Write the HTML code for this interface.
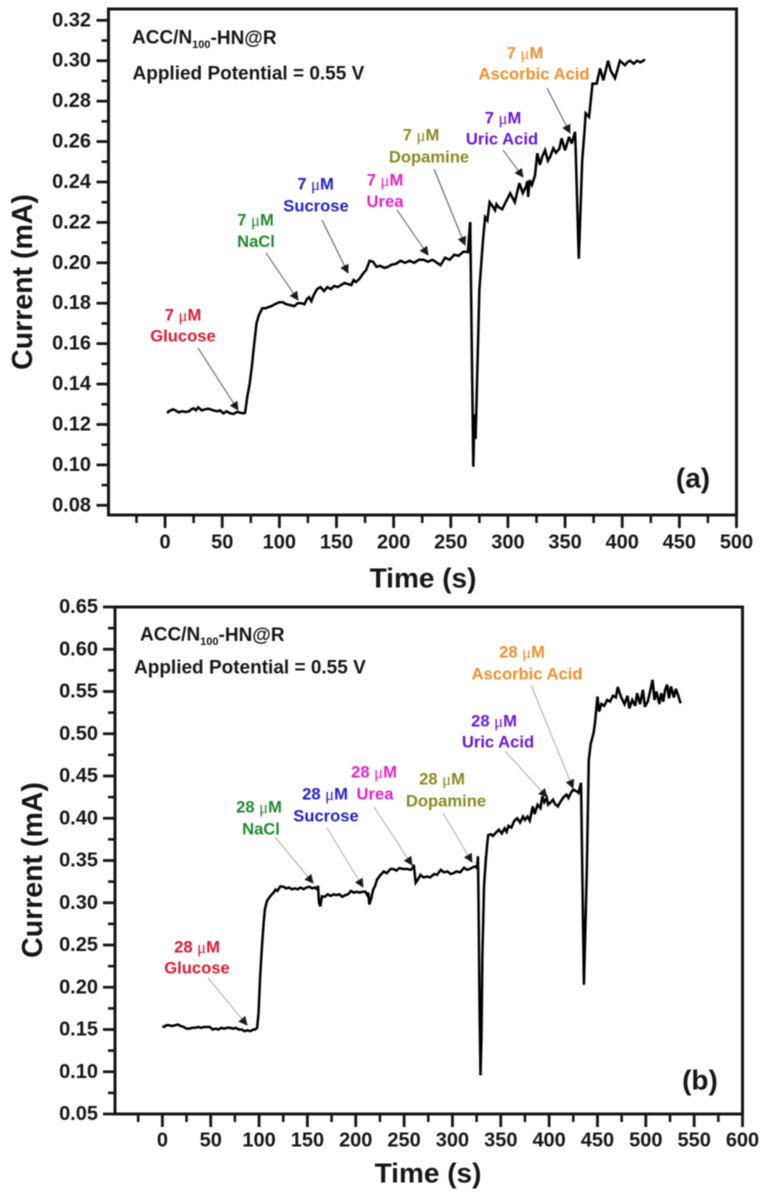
<!DOCTYPE html>
<html lang="en">
<head>
<meta charset="utf-8">
<title>Amperometric response of ACC/N100-HN@R</title>
<style>
html,body{margin:0;padding:0;background:#fff;}
body{width:762px;height:1193px;overflow:hidden;}
svg{display:block;filter:blur(0.55px);}
text{font-family:"Liberation Sans",Arial,sans-serif;font-weight:bold;fill:#161616;}
.ann{font-size:16.6px;text-anchor:middle;dominant-baseline:central;}
.mu{font-family:"Liberation Serif",serif;font-weight:normal;}
.ttl{font-size:19px;dominant-baseline:central;}
.tag{font-size:28px;text-anchor:middle;dominant-baseline:central;}
</style>
</head>
<body>
<svg id="figure" xmlns="http://www.w3.org/2000/svg" width="762" height="1193" viewBox="0 0 762 1193">
<defs>
<marker id="headA" viewBox="0 0 10 10" refX="9" refY="5" markerWidth="11" markerHeight="9" markerUnits="userSpaceOnUse" orient="auto"><path d="M0 0L10 5L0 10Z" fill="#1a1a1a"/></marker>
</defs>
<g id="panelA"></g>
<g id="panelB"></g>

<g>
  <text class="ttl" x="132" y="38">ACC/N<tspan font-size="11" dy="7">100</tspan><tspan dy="-7">-HN@R</tspan></text>
  <text class="ttl" x="132.5" y="74">Applied Potential = 0.55 V</text>
  <text class="tag" x="693" y="478">(a)</text>

  <g fill="none" stroke="#555" stroke-width="1">
    <line x1="198" y1="348" x2="238" y2="410" marker-end="url(#headA)"/>
    <line x1="266" y1="253" x2="298" y2="300" marker-end="url(#headA)"/>
    <line x1="322" y1="220" x2="348" y2="273" marker-end="url(#headA)"/>
    <line x1="397" y1="210" x2="428" y2="255" marker-end="url(#headA)"/>
    <line x1="434" y1="169" x2="465" y2="245" marker-end="url(#headA)"/>
    <line x1="503" y1="150" x2="523" y2="177" marker-end="url(#headA)"/>
    <line x1="547" y1="88" x2="570" y2="133" marker-end="url(#headA)"/>
  </g>

  <g>
    <text class="ann" x="183" y="315" style="fill:#dc1a30">7 <tspan class="mu">μ</tspan>M</text>
    <text class="ann" x="183" y="336" style="fill:#dc1a30">Glucose</text>
  </g>
  <g>
    <text class="ann" x="255.5" y="220" style="fill:#1f8a2e">7 <tspan class="mu">μ</tspan>M</text>
    <text class="ann" x="256" y="241.5" style="fill:#1f8a2e">NaCl</text>
  </g>
  <g>
    <text class="ann" x="315.5" y="184" style="fill:#2222c4">7 <tspan class="mu">μ</tspan>M</text>
    <text class="ann" x="316" y="206" style="fill:#2222c4">Sucrose</text>
  </g>
  <g>
    <text class="ann" x="385" y="180" style="fill:#e322c8">7 <tspan class="mu">μ</tspan>M</text>
    <text class="ann" x="385" y="201.5" style="fill:#e322c8">Urea</text>
  </g>
  <g>
    <text class="ann" x="421" y="135" style="fill:#8a8a22">7 <tspan class="mu">μ</tspan>M</text>
    <text class="ann" x="429" y="157" style="fill:#8a8a22">Dopamine</text>
  </g>
  <g>
    <text class="ann" x="503" y="118" style="fill:#6a18d8">7 <tspan class="mu">μ</tspan>M</text>
    <text class="ann" x="502" y="139" style="fill:#6a18d8">Uric Acid</text>
  </g>
  <g>
    <text class="ann" x="525" y="53" style="fill:#ee8e2c">7 <tspan class="mu">μ</tspan>M</text>
    <text class="ann" x="534" y="74" style="fill:#ee8e2c">Ascorbic Acid</text>
  </g>
</g>

<g>
  <text class="ttl" x="140" y="635">ACC/N<tspan font-size="11" dy="7">100</tspan><tspan dy="-7">-HN@R</tspan></text>
  <text class="ttl" x="134" y="668">Applied Potential = 0.55 V</text>
  <text class="tag" x="700" y="1080">(b)</text>

  <g fill="none" stroke="#aaa" stroke-width="1">
    <line x1="208" y1="978" x2="247" y2="1025" marker-end="url(#headA)"/>
    <line x1="275" y1="837" x2="313" y2="883" marker-end="url(#headA)"/>
    <line x1="327" y1="828" x2="363" y2="887" marker-end="url(#headA)"/>
    <line x1="374" y1="807" x2="412" y2="865" marker-end="url(#headA)"/>
    <line x1="443" y1="813" x2="472" y2="862" marker-end="url(#headA)"/>
    <line x1="505" y1="751" x2="547" y2="797" marker-end="url(#headA)"/>
    <line x1="531" y1="685" x2="573" y2="788" marker-end="url(#headA)"/>
  </g>

  <g>
    <text class="ann" x="197" y="947" style="fill:#dc1a30">28 <tspan class="mu">μ</tspan>M</text>
    <text class="ann" x="197" y="968" style="fill:#dc1a30">Glucose</text>
  </g>
  <g>
    <text class="ann" x="259" y="807" style="fill:#1f8a2e">28 <tspan class="mu">μ</tspan>M</text>
    <text class="ann" x="261" y="829" style="fill:#1f8a2e">NaCl</text>
  </g>
  <g>
    <text class="ann" x="325" y="794" style="fill:#2222c4">28 <tspan class="mu">μ</tspan>M</text>
    <text class="ann" x="326" y="816" style="fill:#2222c4">Sucrose</text>
  </g>
  <g>
    <text class="ann" x="374" y="772" style="fill:#e322c8">28 <tspan class="mu">μ</tspan>M</text>
    <text class="ann" x="375" y="794" style="fill:#e322c8">Urea</text>
  </g>
  <g>
    <text class="ann" x="442" y="779" style="fill:#8a8a22">28 <tspan class="mu">μ</tspan>M</text>
    <text class="ann" x="446" y="801" style="fill:#8a8a22">Dopamine</text>
  </g>
  <g>
    <text class="ann" x="494" y="721" style="fill:#6a18d8">28 <tspan class="mu">μ</tspan>M</text>
    <text class="ann" x="498" y="742" style="fill:#6a18d8">Uric Acid</text>
  </g>
  <g>
    <text class="ann" x="522" y="652" style="fill:#ee8e2c">28 <tspan class="mu">μ</tspan>M</text>
    <text class="ann" x="527" y="674" style="fill:#ee8e2c">Ascorbic Acid</text>
  </g>
</g>
</svg>

<script>
/* ---------- Panel (a) data ---------- */
const timeA = [2,3,5,7,9,12,15,18,21,23,25,27,29,32,35,38,42,46,48,51,54,57,60,63,66,69,70,
 72,74,76,78,80,82,85,88,90,93,96,100,103,106,110,113,116,119,122,124,126,128,130,133,136,139,142,145,148,151,154,157,160,163,165,167,170,173,176,179,182,185,188,192,195,198,202,206,210,214,218,222,226,230,234,238,241,245,249,253,257,261,265,
 266.8,267,269.7,270.7,271.7,275,278,280,282,284,286,288.7,290,292,295,298,302,306,310,313,316,317,317.7,319,321,323.7,325.7,328,330,332.5,335,337,339.7,342,345,347,350,353.5,355.8,358.7,359.2,362,365,367,368,371,374,377.7,380.6,383.5,387.6,390,393.7,398,402.4,405,407,410,413,416,420];
const currentA = [.1255,.1265,.127,.1275,.127,.126,.1265,.1262,.1265,.1275,.128,.127,.1285,.127,.1275,.1278,.127,.1265,.127,.1255,.1265,.1255,.1252,.1262,.1258,.1255,.1258,
 .134,.14,.149,.16,.17,.174,.1775,.1775,.178,.1785,.1795,.1805,.1805,.1795,.179,.1785,.18,.18,.1795,.182,.183,.181,.184,.187,.188,.186,.188,.187,.1885,.188,.189,.19,.1895,.189,.1915,.1905,.192,.1945,.1965,.201,.2005,.198,.1985,.1975,.198,.199,.1995,.201,.2,.201,.2,.2015,.2015,.2005,.2015,.2,.1988,.2025,.2015,.204,.2035,.2055,.2053,
 .2196,.2196,.0991,.125,.1128,.1865,.21,.2226,.221,.23,.2285,.226,.229,.2275,.2265,.23,.2344,.23,.2394,.2345,.238,.2405,.2326,.2409,.2385,.2433,.2542,.2485,.2525,.2557,.2505,.2525,.2567,.2545,.2565,.2616,.2557,.2623,.259,.2648,.2575,.202,.2508,.265,.274,.2722,.2887,.2887,.2962,.2903,.30,.295,.2913,.30,.2978,.2995,.30,.2985,.3,.2992,.3006];

/* ---------- Panel (b) data ---------- */
const timeB = [0,2,4,7,10,13,16,19,22,25,28,31,34,37,40,43,46,49,52,55,58,61,64,67,70,73,76,79,82,85,88,91,94,96,98,
 99.5,101,103,104.7,106,108,111,113,115,117,119,122,125,128,131,134,137,140,143,146,149,152,155,158,160,161,162,163.4,165,168,171,174,177,180,183,186,189,192,195,198,201,204,207,210,212,213,214,216,218,220,222,225,229,232,236,239,242,245,249,253,256.7,259,260,262,264,267,270,274,277,281,284,288,291,295,298,301,304,308,312,315,318,321,324,325.5,326.4,327,328,329,330,331,332.7,334.5,336,
 337,340,342,345,348,351,354,356,358,361,364,367,370,373,375,377.6,380,383,385,388,391,393,395,397.6,399,401.8,404,406,409,412,415,418,420,422.5,425,429.4,430.4,433,436,439,441,443,446,447.4,450,451.7,454,457,460,463,466,469,471,473,475,478,481,483,486,489,491,494,497,499,502,505,507,509,511,514,516,518,520,522,524,526,529,531,533,536,539];
const currentB = [.154,.153,.155,.155,.154,.155,.156,.154,.153,.151,.151,.152,.152,.153,.152,.153,.153,.153,.15,.151,.15,.152,.151,.152,.152,.151,.152,.15,.15,.148,.149,.148,.15,.15,.152,
 .17,.21,.2485,.276,.292,.3016,.307,.3096,.312,.3155,.314,.3194,.319,.317,.318,.316,.317,.316,.318,.316,.318,.319,.317,.318,.316,.32,.30,.2958,.3076,.307,.31,.308,.31,.309,.31,.307,.309,.31,.314,.312,.313,.312,.313,.313,.309,.312,.298,.305,.3155,.32,.3274,.332,.337,.335,.34,.34,.338,.341,.34,.34,.339,.341,.345,.3237,.327,.333,.33,.331,.33,.334,.333,.339,.336,.337,.334,.335,.337,.336,.3415,.339,.34,.342,.343,.341,.355,.30,.18,.0958,.14,.24,.32,.351,.37,
 .38,.381,.379,.383,.3865,.382,.388,.384,.391,.389,.397,.40,.395,.402,.398,.402,.397,.414,.405,.416,.412,.426,.419,.424,.416,.419,.422,.417,.414,.42,.425,.428,.424,.43,.434,.431,.43,.442,.203,.34,.469,.488,.501,.5125,.544,.5262,.5352,.533,.54,.538,.545,.543,.5554,.548,.542,.535,.545,.53,.54,.533,.548,.535,.552,.532,.538,.553,.5637,.54,.55,.5353,.548,.538,.552,.558,.542,.556,.543,.553,.547,.536];

/* ---------- Tick labels ---------- */
const xTicksA = ["0","50","100","150","200","250","300","350","400","450","500"];
const yTicksA = ["0.08","0.10","0.12","0.14","0.16","0.18","0.20","0.22","0.24","0.26","0.28","0.30","0.32"];
const xTicksB = ["0","50","100","150","200","250","300","350","400","450","500","550","600"];
const yTicksB = ["0.05","0.10","0.15","0.20","0.25","0.30","0.35","0.40","0.45","0.50","0.55","0.60","0.65"];

const NS = "http://www.w3.org/2000/svg";
function mk(parent, tag, attrs, text){
  const e = document.createElementNS(NS, tag);
  for (const k in attrs) e.setAttribute(k, attrs[k]);
  if (text !== undefined) e.textContent = text;
  parent.appendChild(e);
  return e;
}
function drawPanel(root, o){
  const xs = t => o.left + (t - o.xMin) * (o.right - o.left) / (o.xMax - o.xMin);
  const ys = v => o.bottom - (v - o.yMin) * (o.bottom - o.top) / (o.yMax - o.yMin);

  const frame = mk(root, "rect", {x:o.left, y:o.top, width:o.right-o.left, height:o.bottom-o.top, fill:"none", stroke:"#161616", "stroke-width":3});
  
  

  const xMajor = o.xTicks.map(Number);
  const xStep = xMajor[1] - xMajor[0];
  xMajor.forEach((t, i) => {
    const px = xs(t);
    const tick = mk(root, "line", {x1:px, x2:px, y1:o.bottom, y2:o.bottom+13, stroke:"#161616", "stroke-width":2.8});
    
    
    const lab = mk(root, "text", {x:px, y:o.xLabelY, "font-size":20, "text-anchor":"middle", "dominant-baseline":"central"}, o.xTicks[i]);
    
    
    const m = t - xStep / 2;
    const pm = xs(m);
    const minor = mk(root, "line", {x1:pm, x2:pm, y1:o.bottom, y2:o.bottom+8, stroke:"#161616", "stroke-width":2.6});
    
    
  });

  const yMajor = o.yTicks.map(Number);
  const yStep = yMajor[1] - yMajor[0];
  yMajor.forEach((v, i) => {
    const py = ys(v);
    const tick = mk(root, "line", {x1:o.left, x2:o.left-12, y1:py, y2:py, stroke:"#161616", "stroke-width":2.8});
    
    
    const lab = mk(root, "text", {x:o.yLabelX, y:py, "font-size":20, "text-anchor":"end", "dominant-baseline":"central"}, o.yTicks[i]);
    
    
    if (i < yMajor.length - 1) {
      const pm = ys(v + yStep / 2);
      const minor = mk(root, "line", {x1:o.left, x2:o.left-7, y1:pm, y2:pm, stroke:"#161616", "stroke-width":2.6});
      
      
    }
  });

  const xt = mk(root, "text", {x:o.xTitleX, y:o.xTitleY, "font-size":28, "text-anchor":"middle", "dominant-baseline":"central"}, "Time (s)");
  
  
  const yt = mk(root, "text", {x:0, y:0, "font-size":28.5, "text-anchor":"middle", "dominant-baseline":"central", transform:"translate("+o.yTitleX+" "+o.yTitleY+") rotate(-90)"}, "Current (mA)");
  
  

  const d = o.time.map((t, i) => (i ? "L" : "M") + xs(t).toFixed(2) + " " + ys(o.current[i]).toFixed(2)).join("");
  const line = mk(root, "path", {d:d, fill:"none", stroke:"#000", "stroke-width":o.lineWidth, "stroke-linejoin":"miter", "stroke-miterlimit":3});
  
  
}

drawPanel(document.getElementById("panelA"), {
  left:108.5, right:736.5, top:9, bottom:515,
  xMin:-49.5, xMax:500, yMin:0.0752, yMax:0.3256,
  xTicks:xTicksA, yTicks:yTicksA, time:timeA, current:currentA,
  xLabelY:542.5, yLabelX:91, xTitleX:423, xTitleY:578, yTitleX:23, yTitleY:282, lineWidth:2.5
});
drawPanel(document.getElementById("panelB"), {
  left:115, right:742.5, top:607, bottom:1114,
  xMin:-49, xMax:600, yMin:0.05, yMax:0.65,
  xTicks:xTicksB, yTicks:yTicksB, time:timeB, current:currentB,
  xLabelY:1140.5, yLabelX:98, xTitleX:428, xTitleY:1173, yTitleX:33, yTitleY:870, lineWidth:2.5
});
</script>
</body>
</html>
